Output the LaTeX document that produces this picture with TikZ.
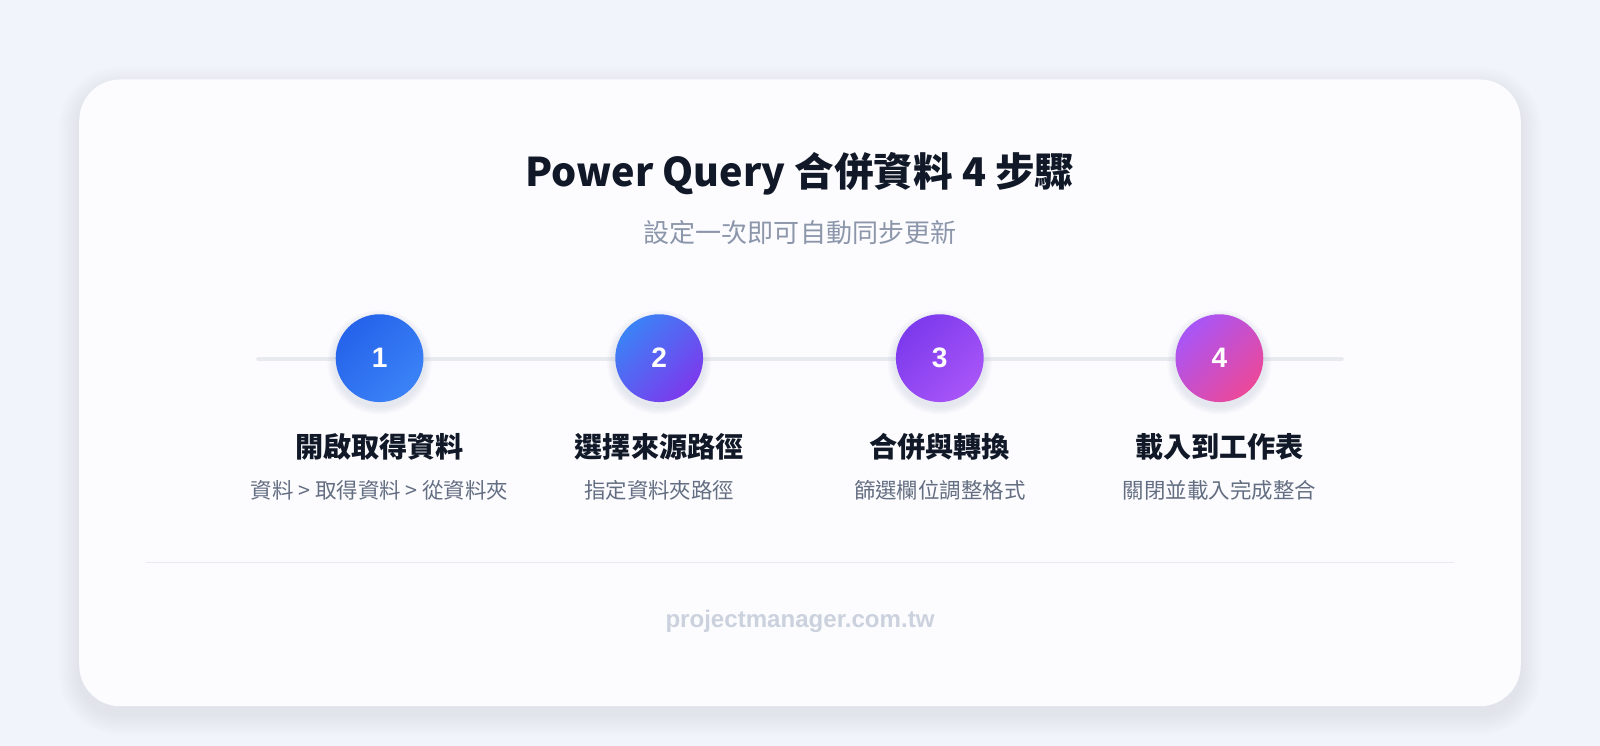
\documentclass[tikz,border=0pt]{standalone}
\usepackage{fontspec}
\setmainfont{Noto Sans CJK TC}
\newfontfamily\latinfont{Liberation Sans}
\usetikzlibrary{positioning}
\definecolor{bgcolor}{RGB}{242,244,251}
\definecolor{cardcolor}{RGB}{252,252,255}
\definecolor{titlecolor}{RGB}{17,24,39}
\definecolor{subcolor}{RGB}{140,150,170}
\definecolor{notecolor}{RGB}{100,110,130}
\definecolor{trackcolor}{RGB}{232,234,240}
\definecolor{footcolor}{RGB}{203,210,222}
\definecolor{shadowcolor}{RGB}{180,185,205}
\definecolor{cA}{RGB}{37,99,235}
\definecolor{cB}{RGB}{59,130,246}
\definecolor{cC}{RGB}{124,58,237}
\definecolor{cD}{RGB}{168,85,247}
\definecolor{cE}{RGB}{236,72,153}
\tikzset{
  stepdot/.style={circle, minimum size=1.755cm, inner sep=0pt, text=white,
    font=\latinfont\fontsize{16}{16}\selectfont\bfseries},
  steptitle/.style={below=0.5cm of #1, font=\fontsize{16}{16}\selectfont\bfseries, text=titlecolor},
  stepnote/.style={below=0.14cm of #1, font=\fontsize{12.2}{12.2}\selectfont, text=notecolor},
}
\begin{document}
\begin{tikzpicture}[x=0.020408cm, y=-0.020408cm]
    \useasboundingbox (0,0) rectangle (1568,731);
    \fill[bgcolor] (0,0) rectangle (1568,731);
    % Card shadow and card
    \foreach \g in {1,...,8}
      \fill[shadowcolor, opacity=0.03, rounded corners=0.8cm+\g*0.05cm] (78-\g*2.5,78-\g*2.5+8) rectangle (1490+\g*2.5,692+\g*2.5+8);
    \node[fill=cardcolor, rounded corners=0.82cm, minimum width=28.82cm, minimum height=12.53cm] (card) at (784,385) {};
    \node[font=\fontsize{22.5}{22.5}\selectfont\bfseries, text=titlecolor] (title) at (784,170) {Power Query 合併資料 4 步驟};
    \node[font=\fontsize{14.8}{14.8}\selectfont, text=subcolor] (subtitle) at (784,228) {設定一次即可自動同步更新};
    % Track
    \coordinate (trackL) at (253,352);
    \coordinate (trackR) at (1315,352);
    \draw[trackcolor, line width=2.2pt, line cap=round] (trackL) -- (trackR);
    % Steps
    \foreach \x in {372,646,921,1195}
      \foreach \g in {1,...,4}
        \fill[shadowcolor, opacity=0.08] (\x,355) circle (43+\g*2);
    \node[stepdot, shading=axis, left color=cA, right color=cB, shading angle=45] (s1) at (372,351) {1};
    \node[stepdot, shading=axis, left color=cB, right color=cC, shading angle=45] (s2) at (646,351) {2};
    \node[stepdot, shading=axis, left color=cC, right color=cD, shading angle=45] (s3) at (921,351) {3};
    \node[stepdot, shading=axis, left color=cD, right color=cE, shading angle=45] (s4) at (1195,351) {4};
    \node[steptitle=s1] (t1) {開啟取得資料};
    \node[steptitle=s2] (t2) {選擇來源路徑};
    \node[steptitle=s3] (t3) {合併與轉換};
    \node[steptitle=s4] (t4) {載入到工作表};
    \node[stepnote=t1] (n1) {資料 > 取得資料 > 從資料夾};
    \node[stepnote=t2] (n2) {指定資料夾路徑};
    \node[stepnote=t3] (n3) {篩選欄位調整格式};
    \node[stepnote=t4] (n4) {關閉並載入完成整合};
    % Footer
    \coordinate (divL) at (143,551);
    \coordinate (divR) at (1425,551);
    \draw[trackcolor, line width=0.8pt] (divL) -- (divR);
    \node[font=\latinfont\fontsize{13.7}{13.7}\selectfont\bfseries, text=footcolor] (foot) at (784,609) {projectmanager.com.tw};
\end{tikzpicture}
\end{document}
